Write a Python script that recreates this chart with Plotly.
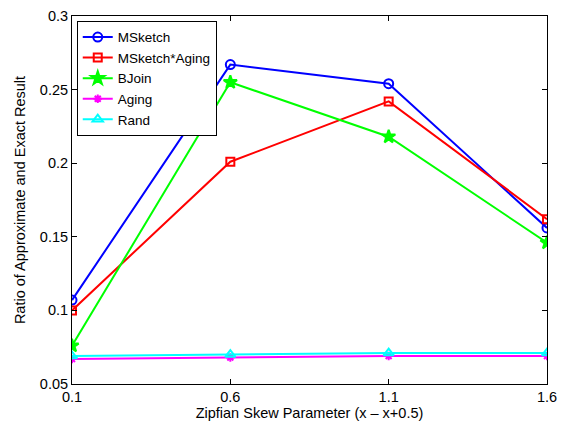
import plotly.graph_objects as go

x_vals = [0.1, 0.6, 1.1, 1.6]
msketch = [0.107, 0.267, 0.254, 0.156]
msketch_aging = [0.100, 0.201, 0.242, 0.162]
bjoin = [0.076, 0.255, 0.218, 0.146]
aging = [0.067, 0.068, 0.069, 0.069]
rand = [0.069, 0.070, 0.071, 0.071]

series = [
    ("MSketch", msketch, "#0000ff", "circle-open", 9),
    ("MSketch*Aging", msketch_aging, "#ff0000", "square-open", 8),
    ("BJoin", bjoin, "#00ff00", "star", 10),
    ("Aging", aging, "#ff00ff", "asterisk-open", 7),
    ("Rand", rand, "#00ffff", "triangle-up-open", 9),
]

fig = go.Figure()
for name, ys, color, sym, size in series:
    fig.add_trace(go.Scatter(
        x=x_vals, y=ys, name=name, mode="lines+markers",
        line=dict(color=color, width=2),
        marker=dict(symbol=sym, size=size, color=color, line=dict(color=color, width=2)),
    ))

fig.update_layout(
    width=569, height=425,
    margin=dict(l=72, r=22, t=8, b=41),
    paper_bgcolor="white", plot_bgcolor="white",
    font=dict(family="Liberation Sans, Arial, sans-serif", size=14.5, color="black"),
    showlegend=True,
    legend=dict(
        x=0.01, y=0.987, xanchor="left", yanchor="top",
        bgcolor="white", bordercolor="black", borderwidth=1,
        font=dict(size=13.5), tracegroupgap=0, itemwidth=30,
    ),
    xaxis=dict(
        range=[0.1, 1.6], tickvals=x_vals, ticktext=["0.1", "0.6", "1.1", "1.6"],
        showgrid=False, zeroline=False, showline=True, linecolor="black", linewidth=1,
        mirror="ticks", ticks="inside", ticklen=5, tickcolor="black",
        title=dict(text="Zipfian Skew Parameter (x \u2013 x+0.5)", font=dict(size=14.5), standoff=0),
    ),
    yaxis=dict(
        range=[0.05, 0.3], tickvals=[0.05, 0.1, 0.15, 0.2, 0.25, 0.3],
        ticktext=["0.05", "0.1", "0.15", "0.2", "0.25", "0.3"],
        showgrid=False, zeroline=False, showline=True, linecolor="black", linewidth=1,
        mirror="ticks", ticks="inside", ticklen=5, tickcolor="black",
        title=dict(text="Ratio of Approximate and Exact Result", font=dict(size=14.5), standoff=10),
    ),
)

fig.write_html("out.html")
